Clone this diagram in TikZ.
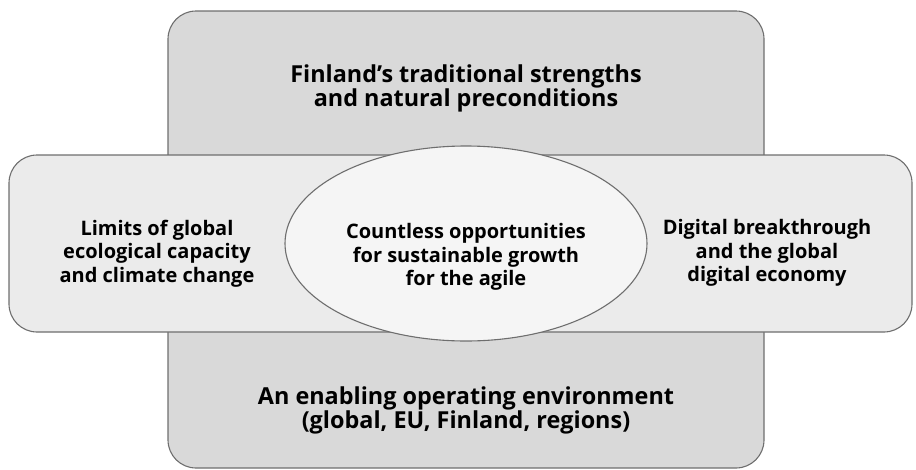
\documentclass[tikz,border=0pt]{standalone}
\usepackage{fontspec}
\setmainfont{Open Sans}
\usetikzlibrary{shapes.geometric}
\usetikzlibrary{positioning}

\begin{document}
\begin{tikzpicture}[x=1pt, y=-1pt]
    \colorlet{border}{black!57}
\colorlet{pillar}{black!15}
\colorlet{band}{black!8}
\colorlet{core}{black!4}

\newcommand\corner{28pt}
\newcommand\rim{1.1pt}

\useasboundingbox (0, 0) rectangle (916, 469);

\begin{scope}
    \tikzset{
        slab/.style={
            draw=border, line width=\rim,
            rounded corners=\corner,
        },
        hub/.style={
            ellipse, draw=border, line width=\rim,
            fill=core, inner sep=0pt,
            minimum width=362pt,
            minimum height=195pt,
        },
        caption/.style={
            font=\bfseries\fontsize{20}{23.5}\selectfont,
            align=center, inner sep=0pt,
        },
        big caption/.style={
            caption,
            font=\bfseries\fontsize{23.4}{24}\selectfont,
        },
    }

    \draw[slab, fill=pillar] (168, 11) rectangle (764, 468);
    \draw[slab, fill=band] (9, 155) rectangle (912, 332);
    \node[hub] at (466, 243.5) (hub) {};

    \node[big caption] at (466, 88) (strengths)
        {Finland’s traditional strengths\\and natural preconditions};
    \node[caption] at (157, 253.5) (limits)
        {Limits of global\\ecological capacity\\and climate change};
    \node[caption] at (767, 253) (digital)
        {Digital breakthrough\\and the global\\digital economy};
    \node[caption] at (466, 257) (growth)
        {Countless opportunities\\for sustainable growth\\for the agile};
    \node[big caption] at (466, 410) (environment)
        {An enabling operating environment\\(global, EU, Finland, regions)};
\end{scope}
\end{tikzpicture}
\end{document}
